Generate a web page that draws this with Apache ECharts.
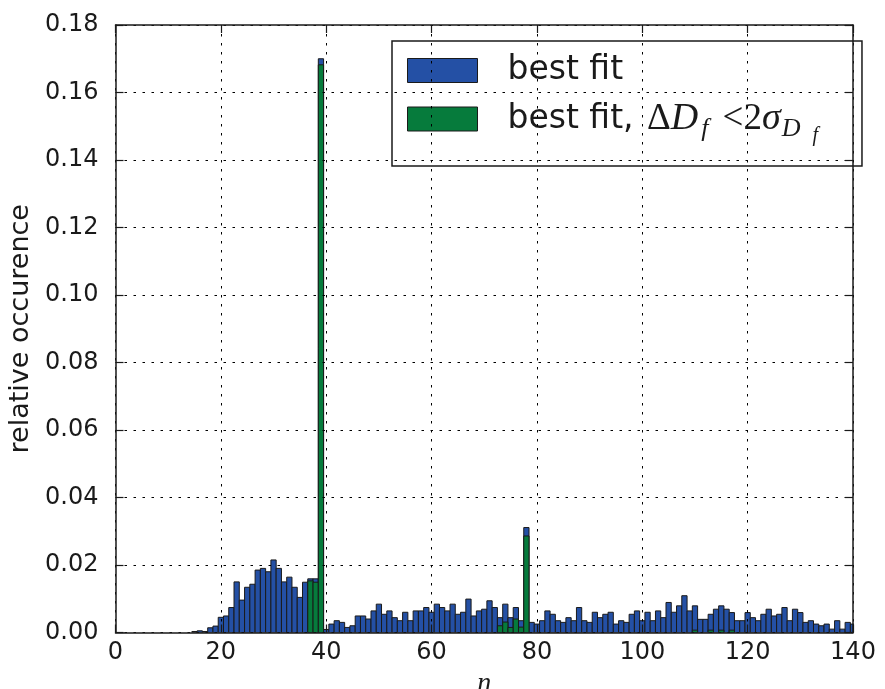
<!DOCTYPE html>
<html>
<head>
<meta charset="utf-8">
<script src="https://cdn.jsdelivr.net/npm/echarts@6/dist/echarts.min.js"></script>
<style>
  html, body { margin: 0; padding: 0; background: #fff; }
  #chart { width: 885px; height: 689px; }
</style>
</head>
<body>
<div id="chart"></div>
<script>
// Histogram of the best-fit n, one bin per integer n (bins centred on n).
// All fits: bins n = 15 .. 140
const bestFitStart = 15;
const bestFit = [
  0.0003, 0.0005, 0.0003, 0.0014, 0.0019, 0.0045, 0.0049, 0.0074, 0.0150, 0.0096, // 15-24
  0.0134, 0.0143, 0.0185, 0.0190, 0.0180, 0.0215, 0.0190, 0.0150, 0.0164, 0.0134, // 25-34
  0.0104, 0.0149, 0.0159, 0.0159, 0.1700, 0.0009, 0.0025, 0.0035, 0.0030, 0.0015, // 35-44
  0.0020, 0.0049, 0.0049, 0.0040, 0.0064, 0.0084, 0.0054, 0.0064, 0.0044, 0.0035, // 45-54
  0.0060, 0.0035, 0.0064, 0.0064, 0.0074, 0.0060, 0.0084, 0.0074, 0.0064, 0.0084, // 55-64
  0.0054, 0.0060, 0.0099, 0.0049, 0.0064, 0.0069, 0.0094, 0.0074, 0.0044, 0.0084, // 65-74
  0.0044, 0.0074, 0.0035, 0.0311, 0.0030, 0.0025, 0.0035, 0.0064, 0.0054, 0.0035, // 75-84
  0.0030, 0.0044, 0.0035, 0.0074, 0.0035, 0.0030, 0.0060, 0.0044, 0.0054, 0.0060, // 85-94
  0.0025, 0.0035, 0.0030, 0.0054, 0.0064, 0.0035, 0.0060, 0.0035, 0.0064, 0.0044, // 95-104
  0.0089, 0.0060, 0.0079, 0.0109, 0.0064, 0.0079, 0.0039, 0.0039, 0.0054, 0.0069, // 105-114
  0.0079, 0.0069, 0.0059, 0.0035, 0.0035, 0.0059, 0.0044, 0.0035, 0.0054, 0.0069, // 115-124
  0.0049, 0.0054, 0.0074, 0.0035, 0.0069, 0.0059, 0.0030, 0.0035, 0.0025, 0.0020, // 125-134
  0.0025, 0.0010, 0.0035, 0.0010, 0.0030, 0.0025                                  // 135-140
];

// Fits with ΔD_f < 2σ_{D_f}: only the non-empty bins
const goodFitN = [37, 38, 39, 73, 74, 75, 76, 77, 78, 110, 113, 115, 117];
const goodFit  = [0.0153, 0.0149, 0.1682, 0.0020, 0.0031, 0.0015, 0.0040, 0.0016, 0.0286, 0.0007, 0.0007, 0.0007, 0.0007];

const xTicks = [0, 20, 40, 60, 80, 100, 120, 140];
const yTicks = [0, 0.02, 0.04, 0.06, 0.08, 0.10, 0.12, 0.14, 0.16, 0.18];

const blue = '#2450a5';
const green = '#067b3c';
const ink = '#1a1a1a';

const bestFitData = bestFit.map((v, i) => [bestFitStart + i, v]);
const goodFitData = goodFitN.map((n, i) => [n, goodFit[i]]);

// one rectangle per bin, spanning n-0.5 .. n+0.5 on the value axis
function binRect(params, api) {
  const n = api.value(0);
  const v = api.value(1);
  const p0 = api.coord([n - 0.5, v]);
  const p1 = api.coord([n + 0.5, 0]);
  return {
    type: 'rect',
    shape: { x: p0[0], y: p0[1], width: p1[0] - p0[0], height: p1[1] - p0[1] },
    style: api.style({ stroke: ink, lineWidth: 1 })
  };
}

const baseFont = 'DejaVu Sans';
const mathFont = 'Liberation Serif';

const chart = echarts.init(document.getElementById('chart'), null, { renderer: 'canvas' });

const gridLine = { show: true, lineStyle: { color: '#000', width: 1, type: [2.5, 6.5] } };
const frame = { show: true, onZero: false, lineStyle: { color: ink, width: 1.5 } };
const inTicks = { show: true, inside: true, length: 8, lineStyle: { color: ink, width: 1.2 } };

chart.setOption({
  animation: false,
  backgroundColor: '#fff',
  textStyle: { fontFamily: baseFont },
  grid: { left: 115.5, right: 32, top: 25, bottom: 56.5, containLabel: false, outerBoundsMode: 'none' },
  xAxis: [{
    type: 'value', min: xTicks[0], max: xTicks[xTicks.length - 1], interval: 20,
    position: 'bottom', z: 5,
    axisLine: frame, axisTick: inTicks, splitLine: gridLine,
    axisLabel: { fontSize: 24, color: ink, margin: 8, fontFamily: baseFont },
    name: 'n', nameLocation: 'middle', nameGap: 36,
    nameTextStyle: { fontFamily: mathFont, fontStyle: 'italic', fontSize: 28, color: ink }
  }, {
    type: 'value', min: xTicks[0], max: xTicks[xTicks.length - 1], interval: 20,
    position: 'top', z: 5,
    axisLine: frame, axisTick: inTicks, splitLine: { show: false }, axisLabel: { show: false }
  }],
  yAxis: [{
    type: 'value', min: yTicks[0], max: yTicks[yTicks.length - 1], interval: 0.02,
    position: 'left', z: 5,
    axisLine: frame, axisTick: inTicks, splitLine: gridLine,
    axisLabel: { fontSize: 24, color: ink, margin: 17, fontFamily: baseFont,
                 formatter: v => v.toFixed(2) },
    name: 'relative occurence', nameLocation: 'middle', nameGap: 73,
    nameTextStyle: { fontSize: 27, color: ink, fontFamily: baseFont }
  }, {
    type: 'value', min: yTicks[0], max: yTicks[yTicks.length - 1], interval: 0.02,
    position: 'right', z: 5,
    axisLine: frame, axisTick: inTicks, splitLine: { show: false }, axisLabel: { show: false }
  }],
  legend: {
    orient: 'vertical', left: 392, top: 41,
    padding: [13, 44, 20, 15], itemGap: 5,
    itemWidth: 70, itemHeight: 24, icon: 'rect',
    selectedMode: false,
    backgroundColor: '#fff', borderColor: ink, borderWidth: 1.5, borderRadius: 0,
    itemStyle: { borderColor: ink, borderWidth: 1 },
    data: ['best fit', 'best fit, ΔDf < 2σDf'],
    formatter: function (name) {
      if (name === 'best fit') return '{gap| }{t|best fit}';
      return '{gap| }{t|best fit, }{d|Δ}{i|D}{s|f}{r|<2}{i|σ}{sd|D}{ss|f}';
    },
    textStyle: {
      color: ink,
      rich: {
        gap: { width: 25, fontSize: 10, lineHeight: 46 },
        t:  { fontFamily: baseFont, fontSize: 33, lineHeight: 46, color: ink, verticalAlign: 'middle' },
        d:  { fontFamily: mathFont, fontSize: 37, lineHeight: 46, color: ink, verticalAlign: 'middle', padding: [0, 0, 0, 3] },
        r:  { fontFamily: mathFont, fontSize: 37, lineHeight: 46, color: ink, verticalAlign: 'middle', padding: [0, 0, 0, 6] },
        i:  { fontFamily: mathFont, fontStyle: 'italic', fontSize: 38, lineHeight: 46, color: ink, verticalAlign: 'middle' },
        s:  { fontFamily: mathFont, fontStyle: 'italic', fontSize: 26, lineHeight: 14, padding: [20, 8, 0, 3], color: ink, verticalAlign: 'middle' },
        sd: { fontFamily: mathFont, fontStyle: 'italic', fontSize: 26, lineHeight: 14, padding: [20, 0, 0, 1], color: ink, verticalAlign: 'middle' },
        ss: { fontFamily: mathFont, fontStyle: 'italic', fontSize: 20, lineHeight: 10, padding: [34, 0, 0, 12], color: ink, verticalAlign: 'middle' }
      }
    }
  },
  series: [{
    name: 'best fit', type: 'custom', renderItem: binRect, clip: true,
    itemStyle: { color: blue }, encode: { x: 0, y: 1 }, data: bestFitData, z: 2
  }, {
    name: 'best fit, ΔDf < 2σDf', type: 'custom', renderItem: binRect, clip: true,
    itemStyle: { color: green }, encode: { x: 0, y: 1 }, data: goodFitData, z: 3
  }]
});
</script>
</body>
</html>
